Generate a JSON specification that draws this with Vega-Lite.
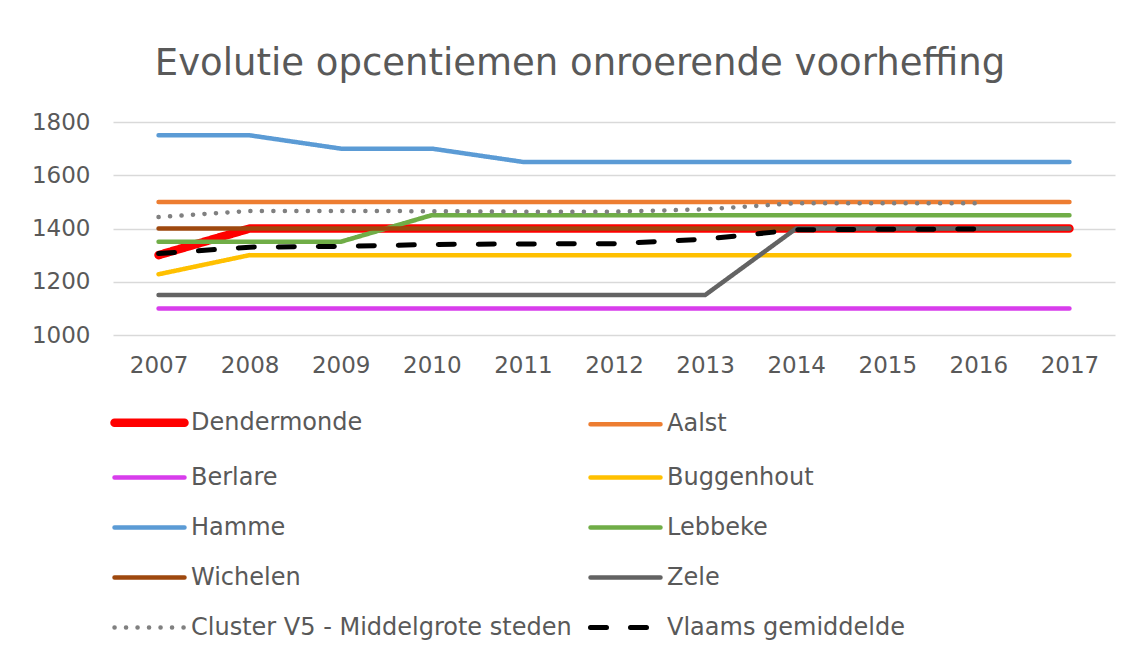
{
  "$schema": "https://vega.github.io/schema/vega-lite/v6.json",
  "width": 1002,
  "height": 213,
  "autosize": {"type": "none"},
  "padding": {"left": 113, "top": 122, "right": 29, "bottom": 323},
  "background": "white",
  "title": {
    "text": "Evolutie opcentiemen onroerende voorheffing",
    "font": "DejaVu Sans",
    "fontSize": 37,
    "fontWeight": "normal",
    "color": "#595959",
    "anchor": "middle",
    "baseline": "alphabetic",
    "offset": -1,
    "dx": -34
  },
  "data": {
    "values": [
      {"year": "2007", "series": "Dendermonde", "value": 1300},
      {"year": "2008", "series": "Dendermonde", "value": 1400},
      {"year": "2009", "series": "Dendermonde", "value": 1400},
      {"year": "2010", "series": "Dendermonde", "value": 1400},
      {"year": "2011", "series": "Dendermonde", "value": 1400},
      {"year": "2012", "series": "Dendermonde", "value": 1400},
      {"year": "2013", "series": "Dendermonde", "value": 1400},
      {"year": "2014", "series": "Dendermonde", "value": 1400},
      {"year": "2015", "series": "Dendermonde", "value": 1400},
      {"year": "2016", "series": "Dendermonde", "value": 1400},
      {"year": "2017", "series": "Dendermonde", "value": 1400},
      {"year": "2007", "series": "Aalst", "value": 1500},
      {"year": "2008", "series": "Aalst", "value": 1500},
      {"year": "2009", "series": "Aalst", "value": 1500},
      {"year": "2010", "series": "Aalst", "value": 1500},
      {"year": "2011", "series": "Aalst", "value": 1500},
      {"year": "2012", "series": "Aalst", "value": 1500},
      {"year": "2013", "series": "Aalst", "value": 1500},
      {"year": "2014", "series": "Aalst", "value": 1500},
      {"year": "2015", "series": "Aalst", "value": 1500},
      {"year": "2016", "series": "Aalst", "value": 1500},
      {"year": "2017", "series": "Aalst", "value": 1500},
      {"year": "2007", "series": "Berlare", "value": 1100},
      {"year": "2008", "series": "Berlare", "value": 1100},
      {"year": "2009", "series": "Berlare", "value": 1100},
      {"year": "2010", "series": "Berlare", "value": 1100},
      {"year": "2011", "series": "Berlare", "value": 1100},
      {"year": "2012", "series": "Berlare", "value": 1100},
      {"year": "2013", "series": "Berlare", "value": 1100},
      {"year": "2014", "series": "Berlare", "value": 1100},
      {"year": "2015", "series": "Berlare", "value": 1100},
      {"year": "2016", "series": "Berlare", "value": 1100},
      {"year": "2017", "series": "Berlare", "value": 1100},
      {"year": "2007", "series": "Buggenhout", "value": 1228},
      {"year": "2008", "series": "Buggenhout", "value": 1300},
      {"year": "2009", "series": "Buggenhout", "value": 1300},
      {"year": "2010", "series": "Buggenhout", "value": 1300},
      {"year": "2011", "series": "Buggenhout", "value": 1300},
      {"year": "2012", "series": "Buggenhout", "value": 1300},
      {"year": "2013", "series": "Buggenhout", "value": 1300},
      {"year": "2014", "series": "Buggenhout", "value": 1300},
      {"year": "2015", "series": "Buggenhout", "value": 1300},
      {"year": "2016", "series": "Buggenhout", "value": 1300},
      {"year": "2017", "series": "Buggenhout", "value": 1300},
      {"year": "2007", "series": "Hamme", "value": 1750},
      {"year": "2008", "series": "Hamme", "value": 1750},
      {"year": "2009", "series": "Hamme", "value": 1700},
      {"year": "2010", "series": "Hamme", "value": 1700},
      {"year": "2011", "series": "Hamme", "value": 1650},
      {"year": "2012", "series": "Hamme", "value": 1650},
      {"year": "2013", "series": "Hamme", "value": 1650},
      {"year": "2014", "series": "Hamme", "value": 1650},
      {"year": "2015", "series": "Hamme", "value": 1650},
      {"year": "2016", "series": "Hamme", "value": 1650},
      {"year": "2017", "series": "Hamme", "value": 1650},
      {"year": "2007", "series": "Lebbeke", "value": 1350},
      {"year": "2008", "series": "Lebbeke", "value": 1350},
      {"year": "2009", "series": "Lebbeke", "value": 1350},
      {"year": "2010", "series": "Lebbeke", "value": 1450},
      {"year": "2011", "series": "Lebbeke", "value": 1450},
      {"year": "2012", "series": "Lebbeke", "value": 1450},
      {"year": "2013", "series": "Lebbeke", "value": 1450},
      {"year": "2014", "series": "Lebbeke", "value": 1450},
      {"year": "2015", "series": "Lebbeke", "value": 1450},
      {"year": "2016", "series": "Lebbeke", "value": 1450},
      {"year": "2017", "series": "Lebbeke", "value": 1450},
      {"year": "2007", "series": "Wichelen", "value": 1400},
      {"year": "2008", "series": "Wichelen", "value": 1400},
      {"year": "2009", "series": "Wichelen", "value": 1400},
      {"year": "2010", "series": "Wichelen", "value": 1400},
      {"year": "2011", "series": "Wichelen", "value": 1400},
      {"year": "2012", "series": "Wichelen", "value": 1400},
      {"year": "2013", "series": "Wichelen", "value": 1400},
      {"year": "2014", "series": "Wichelen", "value": 1400},
      {"year": "2015", "series": "Wichelen", "value": 1400},
      {"year": "2016", "series": "Wichelen", "value": 1400},
      {"year": "2017", "series": "Wichelen", "value": 1400},
      {"year": "2007", "series": "Zele", "value": 1150},
      {"year": "2008", "series": "Zele", "value": 1150},
      {"year": "2009", "series": "Zele", "value": 1150},
      {"year": "2010", "series": "Zele", "value": 1150},
      {"year": "2011", "series": "Zele", "value": 1150},
      {"year": "2012", "series": "Zele", "value": 1150},
      {"year": "2013", "series": "Zele", "value": 1150},
      {"year": "2014", "series": "Zele", "value": 1400},
      {"year": "2015", "series": "Zele", "value": 1400},
      {"year": "2016", "series": "Zele", "value": 1400},
      {"year": "2017", "series": "Zele", "value": 1400},
      {"year": "2007", "series": "Cluster V5 - Middelgrote steden", "value": 1443},
      {"year": "2008", "series": "Cluster V5 - Middelgrote steden", "value": 1466},
      {"year": "2009", "series": "Cluster V5 - Middelgrote steden", "value": 1466},
      {"year": "2010", "series": "Cluster V5 - Middelgrote steden", "value": 1465},
      {"year": "2011", "series": "Cluster V5 - Middelgrote steden", "value": 1463},
      {"year": "2012", "series": "Cluster V5 - Middelgrote steden", "value": 1463},
      {"year": "2013", "series": "Cluster V5 - Middelgrote steden", "value": 1472},
      {"year": "2014", "series": "Cluster V5 - Middelgrote steden", "value": 1495},
      {"year": "2015", "series": "Cluster V5 - Middelgrote steden", "value": 1495},
      {"year": "2016", "series": "Cluster V5 - Middelgrote steden", "value": 1495},
      {"year": "2007", "series": "Vlaams gemiddelde", "value": 1306},
      {"year": "2008", "series": "Vlaams gemiddelde", "value": 1330},
      {"year": "2009", "series": "Vlaams gemiddelde", "value": 1333},
      {"year": "2010", "series": "Vlaams gemiddelde", "value": 1340},
      {"year": "2011", "series": "Vlaams gemiddelde", "value": 1342},
      {"year": "2012", "series": "Vlaams gemiddelde", "value": 1343},
      {"year": "2013", "series": "Vlaams gemiddelde", "value": 1360},
      {"year": "2014", "series": "Vlaams gemiddelde", "value": 1395},
      {"year": "2015", "series": "Vlaams gemiddelde", "value": 1397},
      {"year": "2016", "series": "Vlaams gemiddelde", "value": 1398}
    ]
  },
  "mark": {"type": "line", "strokeCap": "round", "strokeJoin": "round"},
  "encoding": {
    "x": {
      "field": "year",
      "type": "ordinal",
      "axis": {
        "title": null,
        "labelAngle": 0,
        "domain": false,
        "ticks": false,
        "grid": false,
        "labelPadding": 19,
        "labelFont": "DejaVu Sans",
        "labelFontSize": 23,
        "labelColor": "#595959"
      }
    },
    "y": {
      "field": "value",
      "type": "quantitative",
      "scale": {"domain": [1000, 1800], "nice": false, "zero": false},
      "axis": {
        "title": null,
        "values": [1000, 1200, 1400, 1600, 1800],
        "format": "d",
        "domain": false,
        "ticks": false,
        "grid": true,
        "gridColor": "#D9D9D9",
        "gridWidth": 1.3,
        "labelPadding": 23,
        "labelFont": "DejaVu Sans",
        "labelFontSize": 23,
        "labelColor": "#595959"
      }
    },
    "color": {
      "field": "series",
      "type": "nominal",
      "sort": null,
      "scale": {
        "domain": ["Dendermonde", "Aalst", "Berlare", "Buggenhout", "Hamme", "Lebbeke", "Wichelen", "Zele", "Cluster V5 - Middelgrote steden", "Vlaams gemiddelde"],
        "range": ["#FF0000", "#ED7D31", "#D83DEC", "#FFC000", "#5B9BD5", "#70AD47", "#9E480E", "#636363", "#808080", "#000000"]
      },
      "legend": {
        "encode": {
          "symbols": {"update": {"strokeCap": {"value": "round"}}}
        }
      }
    },
    "strokeDash": {
      "field": "series",
      "type": "nominal",
      "sort": null,
      "scale": {
        "domain": ["Dendermonde", "Aalst", "Berlare", "Buggenhout", "Hamme", "Lebbeke", "Wichelen", "Zele", "Cluster V5 - Middelgrote steden", "Vlaams gemiddelde"],
        "range": [[1, 0], [1, 0], [1, 0], [1, 0], [1, 0], [1, 0], [1, 0], [1, 0], [0.1, 11.4], [16, 24]]
      }
    },
    "strokeWidth": {
      "field": "series",
      "type": "nominal",
      "sort": null,
      "scale": {
        "type": "ordinal",
        "domain": ["Dendermonde", "Aalst", "Berlare", "Buggenhout", "Hamme", "Lebbeke", "Wichelen", "Zele", "Cluster V5 - Middelgrote steden", "Vlaams gemiddelde"],
        "range": [8.5, 4.5, 4.5, 4.5, 4.5, 4.5, 4.5, 4.5, 4.5, 5]
      }
    }
  },
  "config": {
    "view": {"stroke": null},
    "legend": {
      "orient": "none",
      "direction": "horizontal",
      "legendX": -3,
      "legendY": 261,
      "columns": 2,
      "title": null,
      "symbolType": "stroke",
      "symbolSize": 4900,
      "labelFont": "DejaVu Sans",
      "labelFontSize": 24,
      "labelColor": "#595959",
      "labelLimit": 500,
      "labelOffset": 2,
      "rowPadding": -24,
      "columnPadding": 8
    }
  }
}
